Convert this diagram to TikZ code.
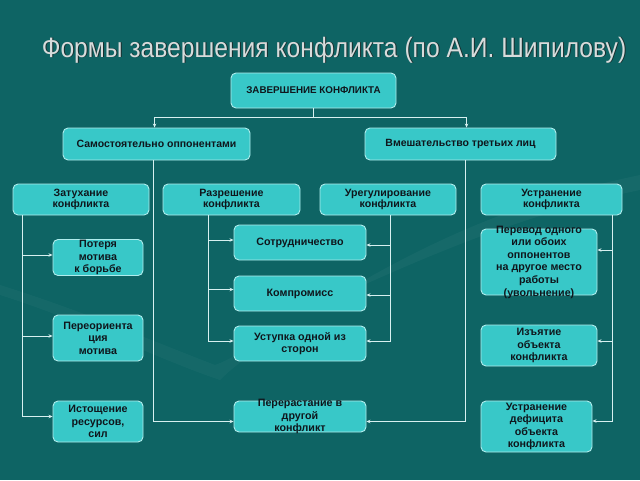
\documentclass[tikz,border=0pt]{standalone}
\usepackage{fontspec}
\setmainfont{Liberation Sans}
\usetikzlibrary{arrows.meta,positioning,calc}
\definecolor{bgc}{RGB}{14,100,100}
\definecolor{boxc}{RGB}{56,200,200}
\definecolor{bordc}{RGB}{175,236,236}
\definecolor{linec}{RGB}{215,240,240}
\definecolor{txtc}{RGB}{15,22,28}
\definecolor{titc}{RGB}{215,220,220}
\definecolor{titsh}{RGB}{25,45,45}
\tikzset{
  box/.style={draw=bordc,line width=0.9pt,fill=boxc,rounded corners=5pt,inner sep=0pt},
  txt/.style={text=txtc,font=\bfseries\fontsize{10.6}{11.5}\selectfont,align=center,inner sep=0pt},
  txtb/.style={text=txtc,font=\bfseries\fontsize{10.7}{12.6}\selectfont,align=center,inner sep=0pt},
  titletxt/.style={font=\fontsize{28}{30}\selectfont,anchor=base,inner sep=0pt},
  conn/.style={draw=linec,line width=1pt},
  arr/.style={conn,-{Stealth[length=4pt,width=3.5pt]}}
}
\begin{document}
\begin{tikzpicture}[x=1pt,y=-1pt]
\fill[bgc] (0,0) rectangle (640,480);
\useasboundingbox (0,0) rectangle (640,480);
% faint background swooshes
\fill[white,opacity=0.035] (330,300) .. controls (430,240) and (520,200) .. (640,175) -- (640,190) .. controls (520,215) and (430,255) .. (330,300) -- cycle;
\fill[white,opacity=0.03] (0,295) .. controls (80,320) and (160,360) .. (220,380) .. controls (240,360) and (270,340) .. (300,330) .. controls (250,345) and (230,360) .. (215,365) .. controls (150,340) and (80,310) .. (0,285) -- cycle;
% title
\node[titletxt,text=titsh] at (335,57.8) {\scalebox{0.88}[1]{Формы завершения конфликта (по А.И. Шипилову)}};
\node[titletxt,text=titc] (title) at (334,57) {\scalebox{0.88}[1]{Формы завершения конфликта (по А.И. Шипилову)}};
% top
\node[box,minimum width=165pt,minimum height=35pt,label={[txt,font=\bfseries\fontsize{9.8}{11}\selectfont]center:ЗАВЕРШЕНИЕ КОНФЛИКТА}] (top) at (313.5,90.5) {};
% second row
\node[box,minimum width=187pt,minimum height=32pt,label={[txt,font=\bfseries\fontsize{10.5}{12}\selectfont]center:Самостоятельно оппонентами}] (l2) at (156.5,144) {};
\node[box,minimum width=191pt,minimum height=32pt,label={[txt,font=\bfseries\fontsize{10.5}{12}\selectfont]center:Вмешательство третьих лиц}] (r2) at (460.5,144) {};
% third row
\node[box,minimum width=136pt,minimum height=31pt,label={[txt]center:{Затухание\\конфликта}}] (zat) at (81,199.5) {};
\node[box,minimum width=137pt,minimum height=31pt,label={[txt]center:{Разрешение\\конфликта}}] (raz) at (231.5,199.5) {};
\node[box,minimum width=136pt,minimum height=31pt,label={[txt]center:{Урегулирование\\конфликта}}] (ure) at (388,199.5) {};
\node[box,minimum width=141pt,minimum height=31pt,label={[txt]center:{Устранение\\конфликта}}] (ust) at (551.5,199.5) {};
% left column
\node[box,minimum width=90pt,minimum height=36pt,label={[txtb]center:{Потеря\\мотива\\к борьбе}}] (pot) at (98,257.5) {};
\node[box,minimum width=90pt,minimum height=46pt,label={[txtb]center:{Переориента\\ция\\мотива}}] (pereor) at (98,338) {};
\node[box,minimum width=90pt,minimum height=41pt,label={[txtb]center:{Истощение\\ресурсов,\\сил}}] (ist) at (98,421.5) {};
% middle column
\node[box,minimum width=132pt,minimum height=35pt,label={[txtb]center:Сотрудничество}] (sot) at (300,242.5) {};
\node[box,minimum width=132pt,minimum height=35pt,label={[txtb]center:Компромисс}] (kom) at (300,293.5) {};
\node[box,minimum width=132pt,minimum height=35pt,label={[txtb]center:{Уступка одной из\\сторон}}] (ustup) at (300,343.5) {};
\node[box,minimum width=132pt,minimum height=31pt,label={[txtb]center:{Перерастание в\\другой\\конфликт}}] (perer) at (300,416.5) {};
% right column
\node[box,minimum width=116pt,minimum height=66pt,label={[txtb]center:{Перевод одного\\или обоих\\оппонентов\\на другое место\\работы\\(увольнение)}}] (perev) at (539,262) {};
\node[box,minimum width=116pt,minimum height=41pt,label={[txtb]center:{Изъятие\\объекта\\конфликта}}] (izy) at (539,345.5) {};
\node[box,minimum width=111pt,minimum height=51pt,label={[txtb]center:{Устранение\\дефицита\\объекта\\конфликта}}] (ustd) at (536.5,426.5) {};
% connectors: top
\coordinate (tj) at ($(top.south)+(0,9)$);
\draw[arr] (top.south) -- (tj) -| ([xshift=92pt]l2.north west);
\draw[arr] (tj) -| ([xshift=102pt]r2.north west);
% second row to Перерастание
\draw[arr] ([xshift=91pt]l2.south west) |- ([yshift=-5pt]perer.west);
\draw[arr] ([xshift=101pt]r2.south west) |- ([yshift=-5pt]perer.east);
% Затухание
\draw[arr] ([xshift=10pt]zat.south west) |- ([yshift=2.5pt]pot.west);
\draw[arr] ([xshift=10pt]zat.south west) |- ([yshift=2pt]pereor.west);
\draw[arr] ([xshift=10pt]zat.south west) |- ([yshift=5pt]ist.west);
% Разрешение
\draw[arr] ([xshift=46pt]raz.south west) |- ([yshift=2.5pt]sot.west);
\draw[arr] ([xshift=46pt]raz.south west) |- ([yshift=4pt]kom.west);
\draw[arr] ([xshift=46pt]raz.south west) |- ([yshift=2.5pt]ustup.west);
% Урегулирование
\draw[arr] ([xshift=71pt]ure.south west) |- ([yshift=-2.5pt]sot.east);
\draw[arr] ([xshift=71pt]ure.south west) |- ([yshift=-1.5pt]kom.east);
\draw[arr] ([xshift=71pt]ure.south west) |- ([yshift=2.5pt]ustup.east);
% Устранение
\draw[arr] ([xshift=-10pt]ust.south east) |- ([yshift=12pt]perev.east);
\draw[arr] ([xshift=-10pt]ust.south east) |- ([yshift=4.5pt]izy.east);
\draw[arr] ([xshift=-10pt]ust.south east) |- ([yshift=5.5pt]ustd.east);
\end{tikzpicture}
\end{document}
